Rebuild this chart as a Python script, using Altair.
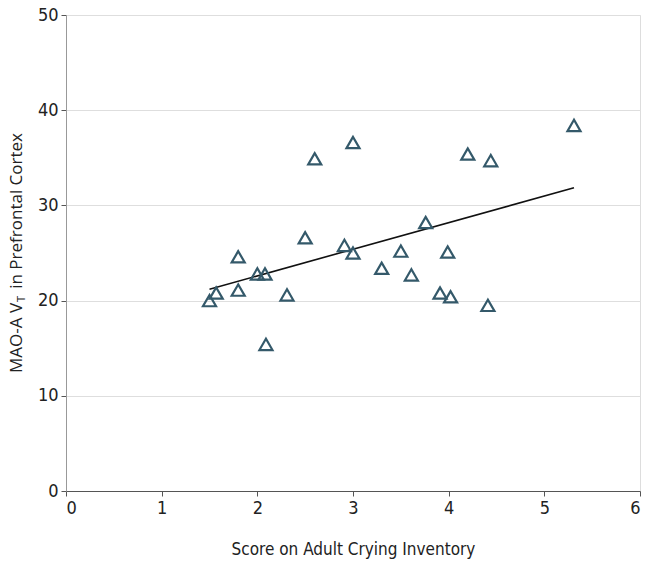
import altair as alt
import pandas as pd

# Data
crying_score = [1.50, 1.57, 1.80, 1.80, 2.00, 2.08, 2.09, 2.31, 2.50, 2.60, 2.91, 3.00,
                3.00, 3.30, 3.50, 3.61, 3.76, 3.91, 3.99, 4.02, 4.20, 4.44, 4.41, 5.31]
mao_a_vt = [20.0, 20.8, 24.6, 21.1, 22.8, 22.8, 15.4, 20.6, 26.6, 34.9, 25.8, 36.6,
            25.0, 23.4, 25.2, 22.7, 28.2, 20.8, 25.1, 20.4, 35.4, 34.7, 19.5, 38.4]
fit_x = [1.50, 5.31]
fit_y = [21.2, 31.85]

x_ticks = [0, 1, 2, 3, 4, 5, 6]
y_ticks = [0, 10, 20, 30, 40, 50]

pts = pd.DataFrame({"score": crying_score, "vt": mao_a_vt})
fit = pd.DataFrame({"score": fit_x, "vt": fit_y})

LABEL_FONT = "'DejaVu Sans Condensed', 'Liberation Sans', sans-serif"
TITLE_FONT = "'Open Sans', sans-serif"

xs = alt.Scale(domain=[0, 6], nice=False, zero=False)
ys = alt.Scale(domain=[0, 50], nice=False, zero=False)

x_enc = alt.X("score:Q", scale=xs,
              axis=alt.Axis(values=x_ticks, format="d", title="Score on Adult Crying Inventory",
                            grid=False, domainColor="#555555", tickColor="#555555",
                            tickSize=5, labelFont=LABEL_FONT, labelFontSize=18,
                            labelColor="#222222", labelPadding=3,
                            titleFont=LABEL_FONT, titleFontSize=17, titleFontWeight="normal",
                            titleColor="#222222", titlePadding=24))
y_enc = alt.Y("vt:Q", scale=ys,
              axis=alt.Axis(values=y_ticks, format="d", title=None, grid=True,
                            gridColor="#dedede", domainColor="#999999", tickColor="#555555",
                            tickSize=5, labelFont=LABEL_FONT, labelFontSize=18,
                            labelColor="#222222", labelPadding=3))

points = alt.Chart(pts).mark_point(shape="triangle-up", filled=False, stroke="#34596a",
                                   strokeWidth=2.2, size=170, opacity=1).encode(x=x_enc, y=y_enc)

line = alt.Chart(fit).mark_line(color="#111111", strokeWidth=1.6).encode(
    x=alt.X("score:Q", scale=xs), y=alt.Y("vt:Q", scale=ys))

title_df = pd.DataFrame({"a": [1]})
t1 = alt.Chart(title_df).mark_text(text="MAO-A V", angle=270, align="left", baseline="middle",
                                   font=TITLE_FONT, fontSize=17, color="#222222").encode(
    x=alt.value(-49), y=alt.value(358))
t2 = alt.Chart(title_df).mark_text(text="T", angle=270, align="center", baseline="middle",
                                   font=TITLE_FONT, fontSize=11, color="#222222").encode(
    x=alt.value(-44), y=alt.value(284))
t3 = alt.Chart(title_df).mark_text(text="in Prefrontal Cortex", angle=270, align="right",
                                   baseline="middle", font=TITLE_FONT, fontSize=17,
                                   color="#222222").encode(
    x=alt.value(-49), y=alt.value(118))

chart = alt.layer(line, points, t1, t2, t3).properties(
    width=574, height=476,
    autosize=alt.AutoSizeParams(type="none"),
    padding={"left": 58, "top": 7, "right": 6, "bottom": 70},
).configure_view(stroke=None).configure(background="white")

chart.save("out.html", embed_options={"renderer": "svg", "actions": False})
